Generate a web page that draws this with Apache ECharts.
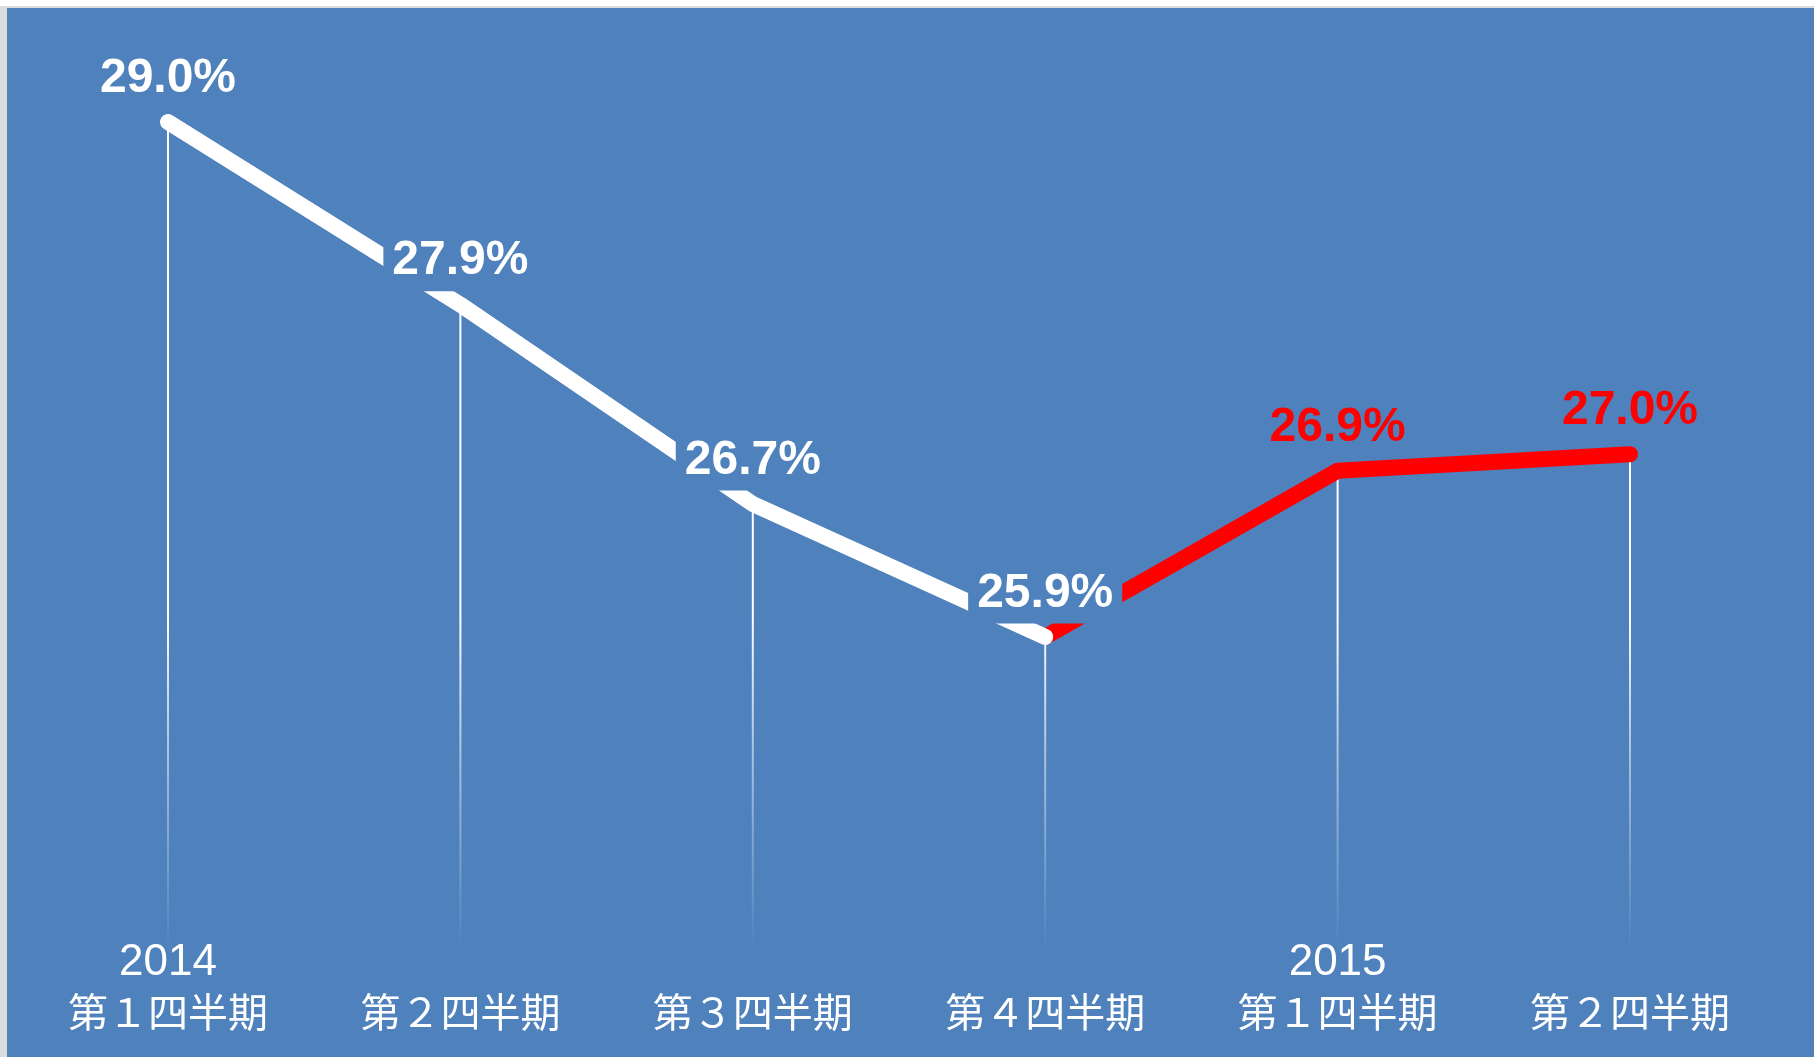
<!DOCTYPE html>
<html>
<head>
<meta charset="utf-8">
<script src="https://cdn.jsdelivr.net/npm/echarts@6/dist/echarts.min.js"></script>
<style>
	html, body { margin: 0; padding: 0; background: #ffffff; }
	#frame { position: absolute; left: 0; top: 6px; width: 1814px; height: 1051px; background: #dcdcdc; }
	#chart { position: absolute; left: 7px; top: 2px; width: 1807px; height: 1049px; background: #4f81bd; }
</style>
</head>
<body>
<div id="frame"><div id="chart"></div></div>
<script>
// Quarterly share (%), 2014 Q1 .. 2015 Q2
const years = [ '2014', '', '', '', '2015', '' ];
const quarters = [ '第１四半期', '第２四半期', '第３四半期', '第４四半期', '第１四半期', '第２四半期' ];
const rates = [ 29.0, 27.9, 26.7, 25.9, 26.9, 27.0 ];
// the first four points are drawn white, the rest red
const actualCount = 4;

const blue = '#4f81bd';
const categories = quarters.map( ( q, i ) => years[ i ] + '\n' + q );

const labelStyle = {
	show: true,
	position: 'top',
	distance: 13,
	fontFamily: 'Liberation Sans, Arial, sans-serif',
	fontWeight: 'bold',
	fontSize: 48,
	lineHeight: 48,
	backgroundColor: blue,
	padding: [ 6, 9, 6, 9 ],
	formatter: ( p ) => p.value.toFixed( 1 ) + '%'
};

const whiteData = rates.map( ( v, i ) => ( i < actualCount ? v : null ) );
const redData = rates.map( ( v, i ) => {
	if ( i < actualCount - 1 ) {
		return null;
	}
	// the joint point is labelled by the white series
	return i === actualCount - 1 ? { value: v, label: { show: false } } : v;
} );

const chart = echarts.init( document.getElementById( 'chart' ) );
chart.setOption( {
	animation: false,
	backgroundColor: blue,
	grid: { left: 14.8, right: 37.8, top: 30.9, bottom: 104.5 },
	xAxis: {
		type: 'category',
		data: categories,
		axisLine: { show: false },
		axisTick: { show: false },
		splitLine: { show: false },
		axisLabel: {
			margin: -15,
			interval: 0,
			formatter: ( val ) => {
				const parts = val.split( '\n' );
				return '{y|' + ( parts[ 0 ] || ' ' ) + '}\n{q|' + parts[ 1 ] + '}';
			},
			rich: {
				y: {
					color: '#fff',
					fontFamily: 'Liberation Sans, sans-serif',
					fontSize: 44,
					lineHeight: 50
				},
				q: {
					color: '#fff',
					fontFamily: 'Noto Sans CJK JP',
					fontSize: 40,
					lineHeight: 48
				}
			}
		}
	},
	yAxis: {
		type: 'value',
		min: 24,
		max: 29.5,
		show: false
	},
	series: [
		{
			// thin drop lines under every point
			type: 'bar',
			data: rates,
			barWidth: 2,
			z: 1,
			silent: true,
			itemStyle: {
				color: new echarts.graphic.LinearGradient( 0, 0, 0, 1049, [
					{ offset: 0, color: 'rgba(255,255,255,1)' },
					{ offset: 0.58, color: 'rgba(255,255,255,1)' },
					{ offset: 0.7, color: 'rgba(255,255,255,0.55)' },
					{ offset: 0.9, color: 'rgba(255,255,255,0)' },
					{ offset: 1, color: 'rgba(255,255,255,0)' }
				], true )
			}
		},
		{
			type: 'line',
			data: redData,
			z: 2,
			symbol: 'circle',
			symbolSize: 1,
			itemStyle: { color: '#ff0000' },
			lineStyle: { color: '#ff0000', width: 16, cap: 'round', join: 'round' },
			label: Object.assign( {}, labelStyle, { color: '#ff0000' } )
		},
		{
			type: 'line',
			data: whiteData,
			z: 3,
			symbol: 'circle',
			symbolSize: 1,
			itemStyle: { color: '#ffffff' },
			lineStyle: { color: '#ffffff', width: 16, cap: 'round', join: 'round' },
			label: Object.assign( {}, labelStyle, { color: '#ffffff' } )
		}
	]
} );
</script>
</body>
</html>
